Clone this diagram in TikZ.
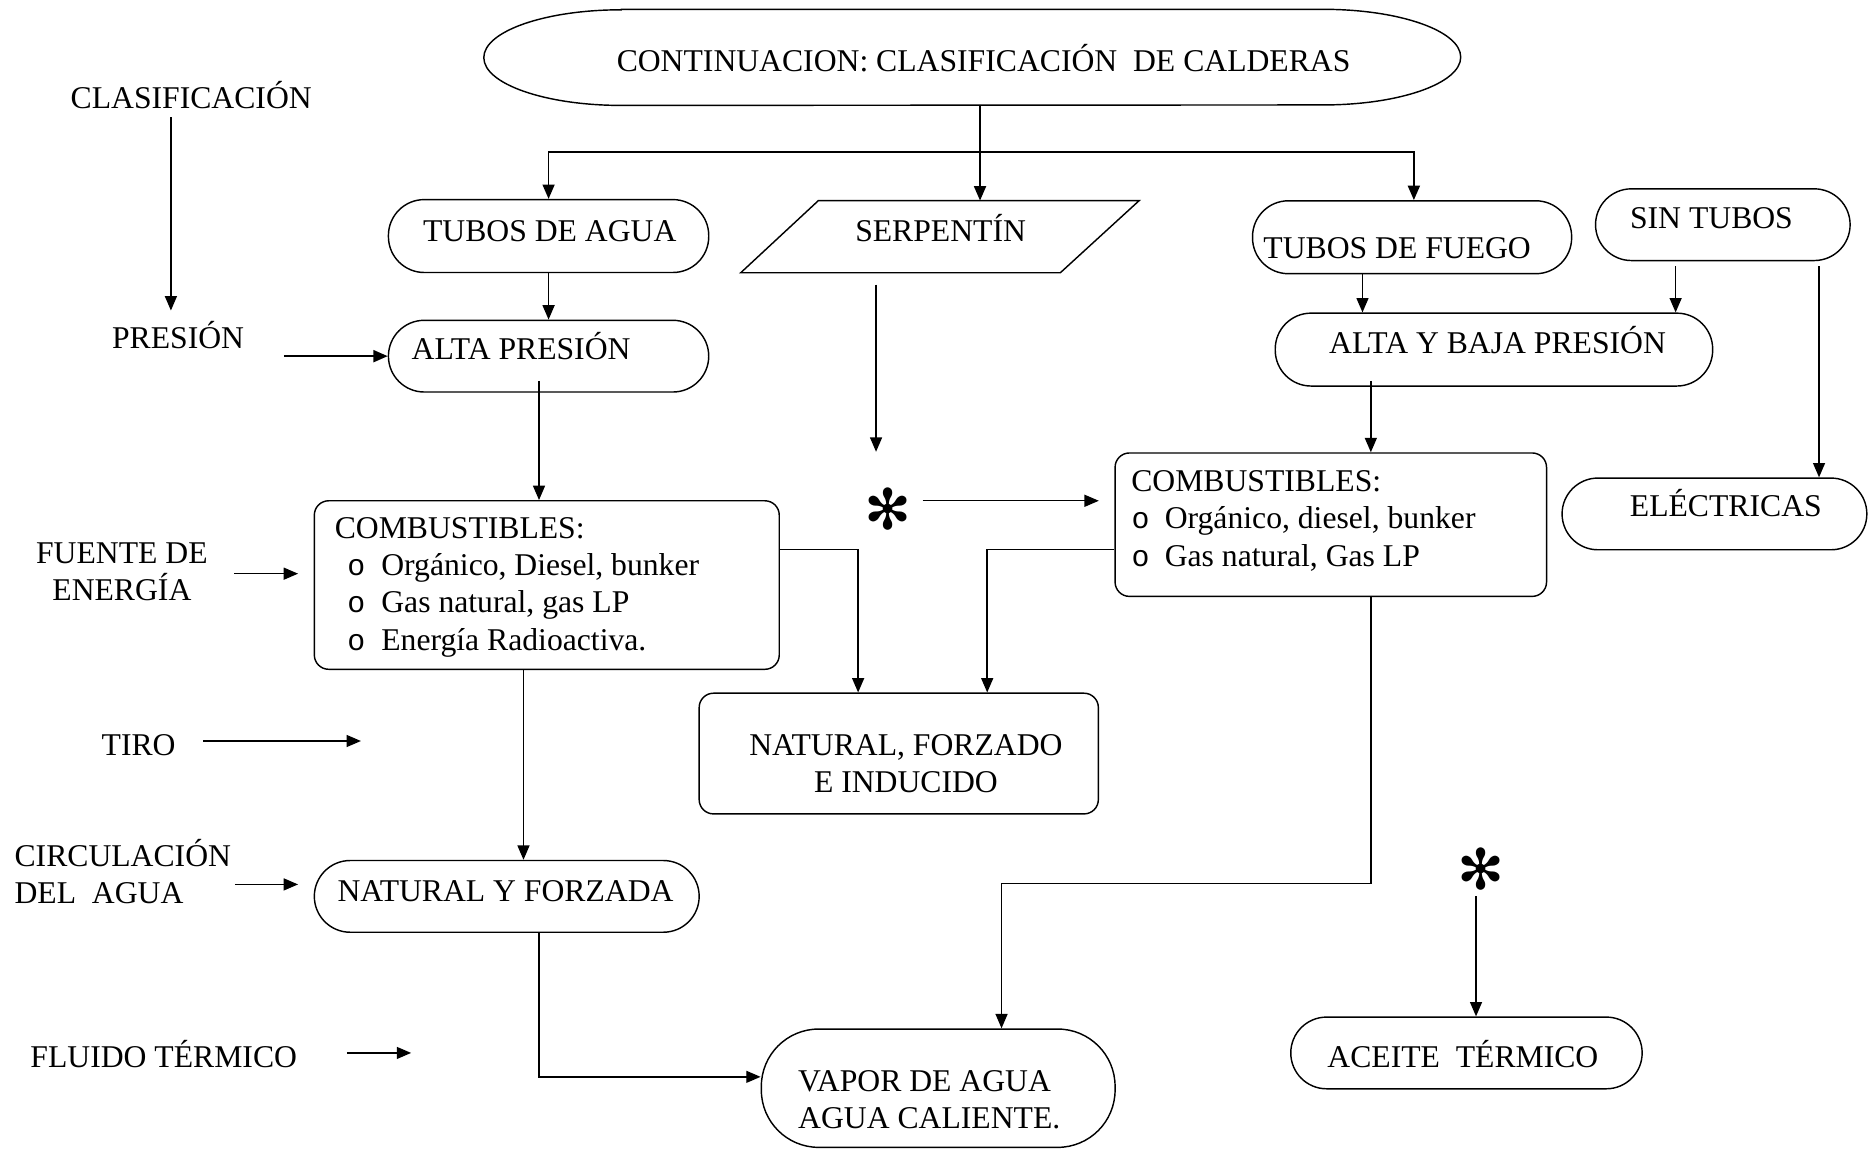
\documentclass[tikz,border=0pt]{standalone}
\usepackage{fontspec}
\setmainfont{Liberation Serif}
\newfontfamily\monof{Liberation Mono}
\newfontfamily\djv{DejaVu Sans}
\usetikzlibrary{arrows.meta}
\newcommand{\bulo}{{\monof\fontsize{25pt}{25pt}\selectfont o}}
\newcommand{\starglyph}{{\djv\fontsize{47pt}{47pt}\selectfont ✻}}
\begin{document}
\begin{tikzpicture}[x=1pt,y=1pt,
  ln/.style={line width=1.2pt},
  arr/.style={ln,-{Triangle[length=12pt,width=10pt]}},
  tx/.style={inner sep=0pt,text height=18pt,text depth=0pt},
  txm/.style={inner sep=0pt,align=center},
  txl/.style={inner sep=0pt,align=left},
  bxs/.style={ln,draw,inner sep=0pt},
  stad/.style={bxs,rounded corners=30pt,minimum height=60pt},
  rbox/.style={bxs,rounded corners=12pt},
  font=\fontsize{26.5pt}{31.3pt}\selectfont]

\fill[white] (0,0) rectangle (1568,-961);
\useasboundingbox (0,0) rectangle (1568,-961);

% title
\node[minimum width=817pt,minimum height=80pt,inner sep=0pt,
  label={[tx,xshift=9.5pt,yshift=-3pt]center:{CONTINUACION: CLASIFICACIÓN~~DE CALDERAS}}] (top) at (813.5,-48) {};
\draw[ln] ([xshift=115pt]top.north west) -- ([xshift=-115pt]top.north east)
  arc[start angle=90,end angle=-90,x radius=115pt,y radius=40pt]
  -- ([xshift=115pt]top.south west)
  arc[start angle=270,end angle=90,x radius=115pt,y radius=40pt] -- cycle;

% left column texts
\node[tx] (clas) at (160,-82) {CLASIFICACIÓN};
\node[tx] (pres) at (149,-283) {PRESIÓN};
\node[txm] (fuente) at (102,-478.5) {FUENTE DE\\ENERGÍA};
\node[tx] (tiro) at (116,-623) {TIRO};
\node[txl,anchor=west] (circ) at (12,-729) {CIRCULACIÓN\\DEL~~AGUA};
\node[tx] (fluido) at (137,-884) {FLUIDO TÉRMICO};
\coordinate (tiroend) at (302,-620);
\coordinate (fluidoend) at (344,-881);

% boxes
\node[stad,minimum width=268pt,minimum height=61pt,
  label={[tx,xshift=1pt,yshift=4.5pt]center:{TUBOS DE AGUA}}] (ta) at (459,-197.5) {};
\node[minimum width=333pt,minimum height=60pt,inner sep=0pt,
  label={[tx,xshift=0.5pt,yshift=5pt]center:{SERPENTÍN}}] (serp) at (786.5,-198) {};
\draw[ln] ([xshift=65pt]serp.north west) -- (serp.north east)
  -- ([xshift=-66pt]serp.south east) -- (serp.south west) -- cycle;
\node[stad,minimum width=267pt,minimum height=61pt,
  label={[tx,xshift=-12.5pt,yshift=-8.5pt]center:{TUBOS DE FUEGO}}] (tf) at (1181.5,-198.5) {};
\node[stad,minimum width=213pt,
  label={[tx,xshift=-9.5pt,yshift=6pt]center:{SIN TUBOS}}] (sin) at (1441.5,-188) {};
\node[stad,minimum width=268pt,
  label={[tx,xshift=-23pt,yshift=6pt]center:{ALTA PRESIÓN}}] (ap) at (459,-298) {};
\node[stad,minimum width=366pt,minimum height=61pt,
  label={[tx,xshift=3pt,yshift=5.5pt]center:{ALTA Y BAJA PRESIÓN}}] (ayb) at (1250,-292.5) {};
\node[stad,minimum width=255pt,
  label={[tx,xshift=9.5pt,yshift=7pt]center:{ELÉCTRICAS}}] (elec) at (1434.5,-430) {};

\node[rbox,minimum width=389pt,minimum height=141pt,
  label={[txl,anchor=north west,xshift=17.5pt,yshift=-14pt]north west:{COMBUSTIBLES:\\
  \hspace*{10.5pt}\makebox[28.5pt][l]{\bulo}Orgánico, Diesel, bunker\\
  \hspace*{10.5pt}\makebox[28.5pt][l]{\bulo}Gas natural, gas LP\\
  \hspace*{10.5pt}\makebox[28.5pt][l]{\bulo}Energía Radioactiva.}}] (comb1) at (457.5,-489.5) {};
\node[rbox,minimum width=361pt,minimum height=120pt,
  label={[txl,anchor=north west,xshift=14pt,yshift=-15pt]north west:{COMBUSTIBLES:\\
  \hspace*{0.3pt}\makebox[27.7pt][l]{\bulo}Orgánico, diesel, bunker\\
  \hspace*{0.3pt}\makebox[27.7pt][l]{\bulo}Gas natural, Gas LP}}] (comb2) at (1113.5,-439) {};

\node[rbox,minimum width=334pt,minimum height=101pt,
  label={[txm,xshift=6pt,yshift=-8.5pt]center:{NATURAL, FORZADO\\E INDUCIDO}}] (nfi) at (752,-630.5) {};
\node[stad,minimum width=322pt,
  label={[tx,xshift=-1pt,yshift=5pt]center:{NATURAL Y FORZADA}}] (nyf) at (424,-750) {};
\node[bxs,rounded corners=48pt,minimum width=296pt,minimum height=99pt,
  label={[txl,xshift=-7.5pt,yshift=-9.5pt]center:{VAPOR DE AGUA\\AGUA CALIENTE.}}] (vapor) at (785,-910.5) {};
\node[stad,minimum width=294pt,
  label={[tx,xshift=-3pt,yshift=-3pt]center:{ACEITE~~TÉRMICO}}] (aceite) at (1227,-881) {};

\node[inner sep=0pt] (star1) at (743,-426) {\starglyph};
\node[inner sep=0pt] (star2) at (1239,-727) {\starglyph};

% connectors
\draw[arr] ([xshift=-17pt,yshift=-7pt]clas.south) -- ([xshift=-6pt,yshift=14pt]pres.north);
\draw[arr,line width=1.8pt] ([xshift=33pt,yshift=-15pt]pres.east) -- (ap.west);
\draw[arr,line width=1.5pt] ([xshift=6.5pt]top.south) -- ([xshift=6.5pt]top.south |- serp.north);
\draw[arr,line width=1.5pt] ([xshift=6.5pt,yshift=-39pt]top.south) -| (ta.north);
\draw[arr,line width=1.5pt] ([xshift=6.5pt,yshift=-39pt]top.south) -| ([xshift=1.5pt]tf.north);
\draw[arr] (ta.south) -- (ap.north);
\draw[arr] ([xshift=-41.5pt]tf.south) -- ([xshift=-41.5pt]tf.south |- ayb.north);
\draw[arr] ([xshift=-39.5pt,yshift=-4pt]sin.south) -- ([xshift=-39.5pt]sin.south |- ayb.north);
\draw[arr] ([xshift=80.5pt,yshift=-4pt]sin.south) -- ([xshift=80.5pt]sin.south |- elec.north);
\draw[arr] ([xshift=-8pt,yshift=10pt]ap.south) -- ([xshift=-8pt]ap.south |- comb1.north);
\draw[arr] ([xshift=-53.5pt,yshift=-10pt]serp.south) -- ([xshift=-10pt,yshift=48pt]star1.center);
\draw[arr] ([xshift=29pt,yshift=7pt]star1.center) -- ([xshift=-13pt,yshift=20pt]comb2.west);
\draw[arr] ([xshift=-103pt,yshift=5pt]ayb.south) -- ([xshift=-103pt]ayb.south |- comb2.north);
\draw[arr] ([yshift=29.5pt]comb1.east) -| ([xshift=-34pt]nfi.north);
\draw[arr] ([yshift=-21pt]comb2.west) -| ([xshift=74pt]nfi.north);
\draw[arr] ([xshift=23pt,yshift=3pt]tiro.east) -- (tiroend);
\draw[arr] ([xshift=22pt,yshift=-1.5pt]fuente.east) -- ([xshift=-13pt,yshift=9.5pt]comb1.west);
\draw[arr] ([xshift=-19.5pt]comb1.south) -- ([xshift=-19.5pt]comb1.south |- nyf.north);
\draw[arr] ([xshift=3pt,yshift=-11pt]circ.east) -- ([xshift=-13pt,yshift=10pt]nyf.west);
\draw[arr] ([xshift=41.5pt,yshift=3pt]fluido.east) -- (fluidoend);
\draw[arr] ([xshift=27pt]nyf.south) |- ([yshift=9.5pt]vapor.west);
\draw[arr] ([xshift=33.5pt]comb2.south) |- ([xshift=53pt,yshift=121pt]vapor.north) -- ([xshift=53pt]vapor.north);
\draw[arr] ([xshift=-4pt,yshift=-23pt]star2.center) -- ([xshift=-4pt]star2.center |- aceite.north);
\end{tikzpicture}
\end{document}
